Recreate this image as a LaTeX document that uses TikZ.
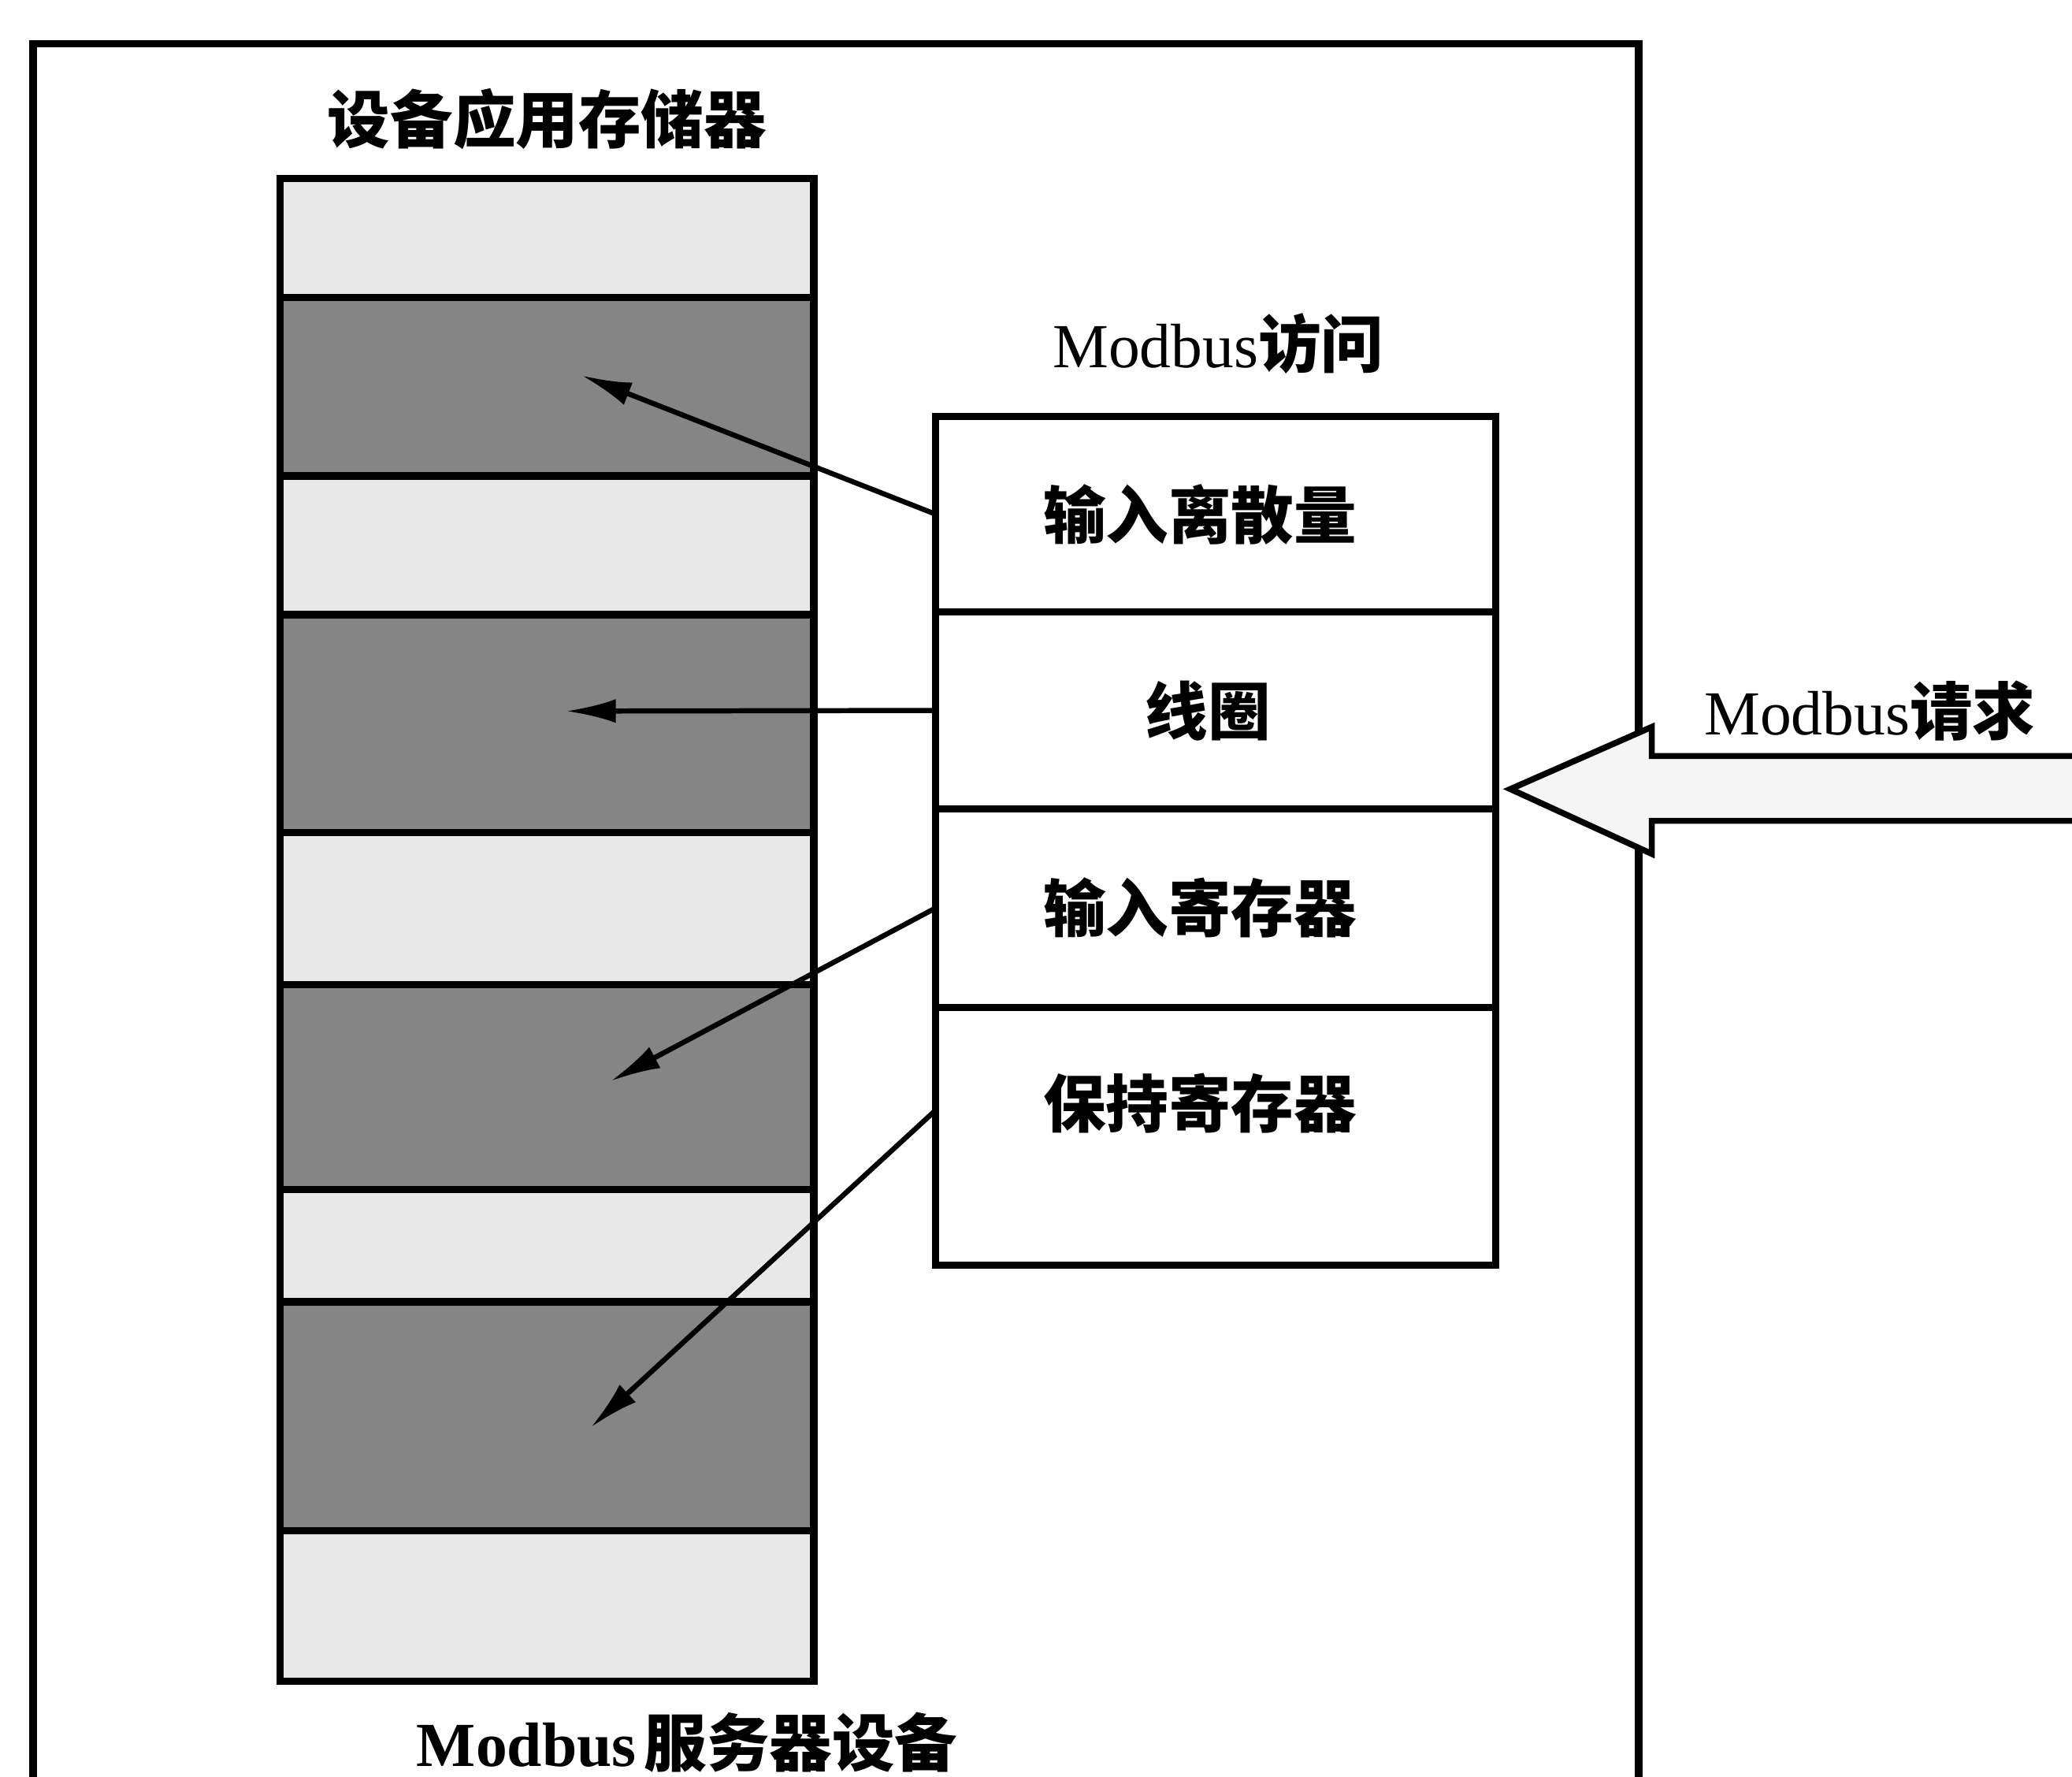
\documentclass[tikz,border=0pt]{standalone}
\usepackage{fontspec}
\setmainfont{Liberation Serif}
\newfontfamily\cjk{Noto Sans CJK SC}
\usetikzlibrary{arrows.meta}
\begin{document}
\begin{tikzpicture}[x=0.1mm,y=-0.1mm,
  memrow/.style={draw, line width=1.6pt, minimum width=40.4mm, inner sep=0pt, outer sep=0pt, anchor=north west},
  light/.style={memrow, fill=black!9},
  dark/.style={memrow, fill=black!48},
  accrow/.style={draw, line width=1.5pt, minimum width=42.4mm, inner sep=0pt, outer sep=0pt, anchor=north west},
  lbl/.style={font=\fontsize{13.5}{16}\selectfont, inner sep=0pt},
  cjklbl/.style={font=\fontsize{13.5}{16}\selectfont\cjk\bfseries, inner sep=0pt},
  link/.style={line width=1.1pt, -{Latex[length=3.8mm,width=1.8mm]}},
  frameline/.style={line width=1.6pt}]
\useasboundingbox (0,0) rectangle (1568,1344);
\fill[white] (0,0) rectangle (1568,1344);

% outer frame (bottom edge lies below the picture)
\coordinate (fbl) at (25,1350);
\coordinate (ftl) at (25,33);
\coordinate (ftr) at (1240,33);
\coordinate (fbr) at (1240,1350);
\draw[frameline] (fbl) -- (ftl) -- (ftr) -- (fbr);

% memory column
\node[light, minimum height=9mm]   (m1) at (212,135) {};
\node[dark,  minimum height=13.5mm](m2) at (212,225) {};
\node[light, minimum height=10.5mm](m3) at (212,360) {};
\node[dark,  minimum height=16.5mm](m4) at (212,465) {};
\node[light, minimum height=11.5mm](m5) at (212,630) {};
\node[dark,  minimum height=15.5mm](m6) at (212,745) {};
\node[light, minimum height=8.5mm] (m7) at (212,900) {};
\node[dark,  minimum height=17.3mm](m8) at (212,985) {};
\node[light, minimum height=11.4mm](m9) at (212,1158) {};

% access table
\node[accrow, minimum height=14.8mm] (a1) at (708,315) {};
\node[accrow, minimum height=14.9mm] (a2) at (708,463) {};
\node[accrow, minimum height=15mm]   (a3) at (708,612) {};
\node[accrow, minimum height=19.5mm] (a4) at (708,762) {};
\node[cjklbl] (t1) at (908,389) {输入离散量};
\node[cjklbl] (t2) at (914,538) {线圈};
\node[cjklbl] (t3) at (908,687) {输入寄存器};
\node[cjklbl] (t4) at (908,835) {保持寄存器};

% labels
\node[lbl] (title) at (414,90) {\cjk\bfseries 设备应用存储器};
\node[lbl] (acc) at (922,260) {Modbus{\cjk\bfseries 访问}};
\node[lbl] (req) at (1415,538) {Modbus{\cjk\bfseries 请求}};
\node[lbl] (dev) at (520,1318) {\textbf{Modbus}\hspace{0.6mm}{\cjk\bfseries 服务器设备}};

% connectors
\coordinate (p1) at (440,284);
\coordinate (p2) at (428,538);
\coordinate (p3) at (462,818);
\coordinate (s4) at (708,840);
\coordinate (p4) at (447,1080);
\draw[link] (a1.west) -- (p1);
\draw[link] (a2.west) -- (p2);
\draw[link] (a3.west) -- (p3);
\draw[link] (s4) -- (p4);

% request block arrow
\coordinate (q0) at (1580,572);
\coordinate (q1) at (1250,572);
\coordinate (q2) at (1250,550);
\coordinate (q3) at (1143,597);
\coordinate (q4) at (1250,646);
\coordinate (q5) at (1250,621);
\coordinate (q6) at (1580,621);
\fill[black!4] (q0) -- (q1) -- (q2) -- (q3) -- (q4) -- (q5) -- (q6) -- cycle;
\draw[line width=1.3pt, line join=miter] (q0) -- (q1) -- (q2) -- (q3) -- (q4) -- (q5) -- (q6);
\end{tikzpicture}
\end{document}
